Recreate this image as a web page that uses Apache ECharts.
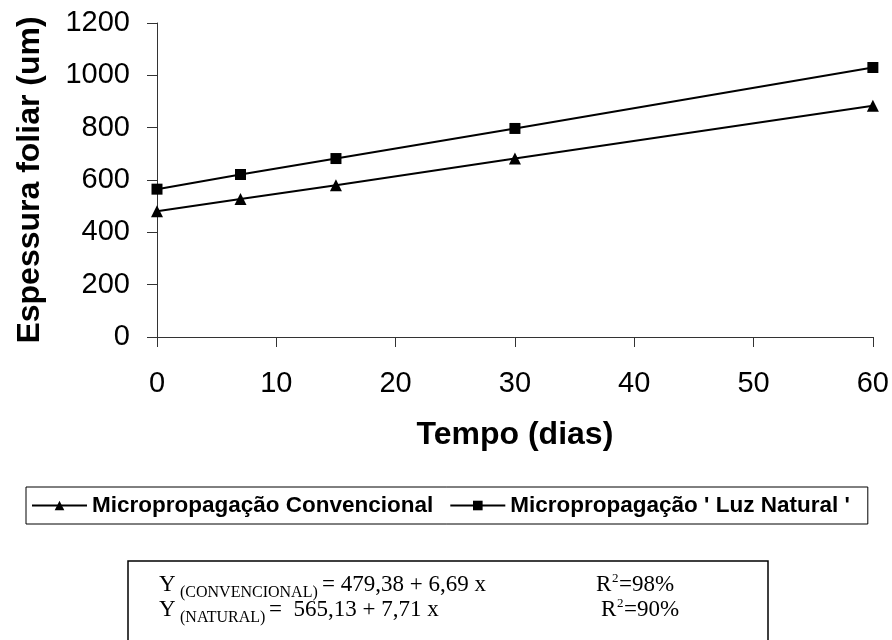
<!DOCTYPE html>
<html><head><meta charset="utf-8">
<script src="https://cdn.jsdelivr.net/npm/echarts@6/dist/echarts.min.js"></script>
<style>html,body{margin:0;padding:0;background:#fff}#c{width:892px;height:640px}</style>
</head><body><div id="c"></div>
<script>
const days = [0, 7, 15, 30, 60];
const convencional = [481, 527, 580, 682, 884];
const natural = [565, 621, 682, 797, 1030];
const seriesNames = ['Micropropagação Convencional', "Micropropagação ' Luz Natural '"];
const xTitle = 'Tempo (dias)';
const yTitle = 'Espessura foliar (um)';

const chart = echarts.init(document.getElementById('c'), null, {renderer: 'canvas'});
const sans = 'Liberation Sans, Arial, Helvetica';
const serifFont = 'Liberation Serif, Times New Roman';
const axisCommon = {
  axisLine: {show: true, lineStyle: {color: '#333', width: 1}},
  axisTick: {show: true, inside: false, length: 10, lineStyle: {color: '#333'}},
  splitLine: {show: false},
  nameTextStyle: {color: '#000', fontFamily: sans, fontSize: 32, fontWeight: 'bold'}
};
function t(x, y, text, size) {
  return {type: 'text', x: x, y: y, style: {text: text, font: size + 'px ' + serifFont, fill: '#000', verticalAlign: 'top'}};
}
chart.setOption({
  animation: false,
  backgroundColor: '#fff',
  grid: {left: 157, right: 19, top: 23, bottom: 303, containLabel: false},
  xAxis: Object.assign({}, axisCommon, {
    type: 'value', min: 0, max: 60, interval: 10,
    axisLabel: {color: '#000', fontFamily: sans, fontSize: 29, margin: 32},
    name: xTitle, nameLocation: 'middle', nameGap: 82
  }),
  yAxis: Object.assign({}, axisCommon, {
    type: 'value', min: 0, max: 1200, interval: 200,
    axisLabel: {color: '#000', fontFamily: sans, fontSize: 29, margin: 27, formatter: v => String(v)},
    name: yTitle, nameLocation: 'middle', nameGap: 111, nameRotate: 90
  }),
  legend: {
    left: 26, top: 487,
    data: seriesNames,
    borderColor: '#000', borderWidth: 1, borderRadius: 0,
    padding: [7, 18, 7, 5],
    itemWidth: 55, itemHeight: 12, itemGap: 16,
    textStyle: {color: '#000', fontFamily: sans, fontSize: 22.5, fontWeight: 'bold'}
  },
  series: [
    {name: seriesNames[0], type: 'line', data: days.map((d, i) => [d, convencional[i]]),
     symbol: 'triangle', symbolSize: 12, itemStyle: {color: '#000'},
     lineStyle: {color: '#000', width: 2}},
    {name: seriesNames[1], type: 'line', data: days.map((d, i) => [d, natural[i]]),
     symbol: 'rect', symbolSize: 11, itemStyle: {color: '#000'},
     lineStyle: {color: '#000', width: 2}}
  ],
  graphic: [
    {type: 'rect', shape: {x: 128, y: 561, width: 640, height: 90}, style: {fill: '#fff', stroke: '#000', lineWidth: 1.5}},
    t(159, 573, 'Y', 23), t(180, 585, '(CONVENCIONAL)', 16), t(322, 573, '= 479,38 + 6,69 x', 23),
    t(596, 573, 'R', 23), t(612, 572, '2', 13), t(619, 573, '=98%', 23),
    t(159, 598, 'Y', 23), t(180, 610, '(NATURAL)', 16), t(269, 598, '=  565,13 + 7,71 x', 23),
    t(601, 598, 'R', 23), t(617, 597, '2', 13), t(624, 598, '=90%', 23)
  ]
});
</script></body></html>
